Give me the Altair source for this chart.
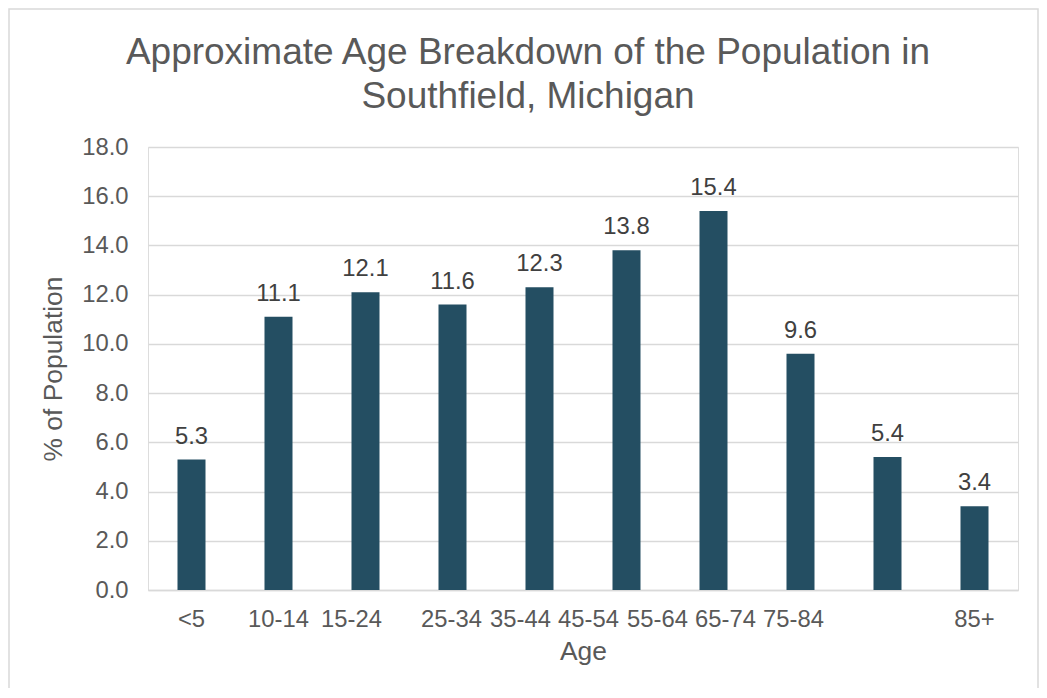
import altair as alt
import pandas as pd

# ---- data ----
ages = ["<5", "10-14", "15-24", "25-34", "35-44", "45-54", "55-64", "65-74", "75-84", "85+"]
pct = [5.3, 11.1, 12.1, 11.6, 12.3, 13.8, 15.4, 9.6, 5.4, 3.4]
y_ticks = [0, 2, 4, 6, 8, 10, 12, 14, 16, 18]

# horizontal shift (px) of each category label, as drawn in the original
label_shift = {"15-24": -14, "25-34": -1, "35-44": -19, "45-54": -38,
               "55-64": -56, "65-74": -75, "75-84": -94}

df = pd.DataFrame({"Age": ages, "Pct": pct})

FONT = "Liberation Sans"
GREY = "#595959"
BAR = "#244E62"
GRID = "#D9D9D9"

label_offset = {
    "condition": [{"test": f"datum.value === '{k}'", "value": v} for k, v in label_shift.items()],
    "value": 0,
}

x_enc = alt.X(
    "Age:N",
    sort=ages,
    scale=alt.Scale(paddingInner=0.678, paddingOuter=0.339),
    axis=alt.Axis(
        title="Age", titleFont=FONT, titleFontSize=26.4, titleFontWeight="normal",
        titleColor=GREY, titlePadding=8,
        labelFont=FONT, labelFontSize=23.8, labelColor=GREY, labelAngle=0,
        labelPadding=17, labelOffset=label_offset,
        ticks=False, tickSize=0, domainColor=GRID, domainWidth=1.3, grid=False,
    ),
)

y_enc = alt.Y(
    "Pct:Q",
    scale=alt.Scale(domain=[0, 18], nice=False),
    axis=alt.Axis(
        values=y_ticks, format=".1f", title="% of Population",
        titleFont=FONT, titleFontSize=26.4, titleFontWeight="normal", titleColor=GREY,
        titlePadding=14,
        labelFont=FONT, labelFontSize=23.8, labelColor=GREY, labelPadding=20,
        ticks=False, tickSize=0, domain=False,
        grid=True, gridColor=GRID, gridWidth=1.3,
    ),
)

base = alt.Chart(df)

bars = base.mark_bar(color=BAR).encode(x=x_enc, y=y_enc)

labels = base.mark_text(
    font=FONT, fontSize=23.8, color="#404040", baseline="alphabetic", dy=-16
).encode(x=alt.X("Age:N", sort=ages), y="Pct:Q", text=alt.Text("Pct:Q", format=".1f"))

frame = alt.Chart(pd.DataFrame({"f": [0]})).mark_rect(
    fillOpacity=0, stroke=GRID, strokeWidth=1.5
).encode(x=alt.value(-139), x2=alt.value(890), y=alt.value(-138), y2=alt.value(580))

chart = alt.layer(frame, bars, labels).properties(
    width=870,
    height=443,
    title=alt.TitleParams(
        text=["Approximate Age Breakdown of the Population in", "Southfield, Michigan"],
        font=FONT, fontSize=37, fontWeight="normal", color=GREY,
        lineHeight=44, anchor="middle", frame="group", dx=-55, offset=-108,
    ),
    autosize=alt.AutoSizeParams(type="none"),
    padding={"left": 140, "top": 139, "right": 21, "bottom": 98},
).configure_view(stroke=None).configure(background="white")

chart.save("out.html", embed_options={"renderer": "svg", "actions": False})
